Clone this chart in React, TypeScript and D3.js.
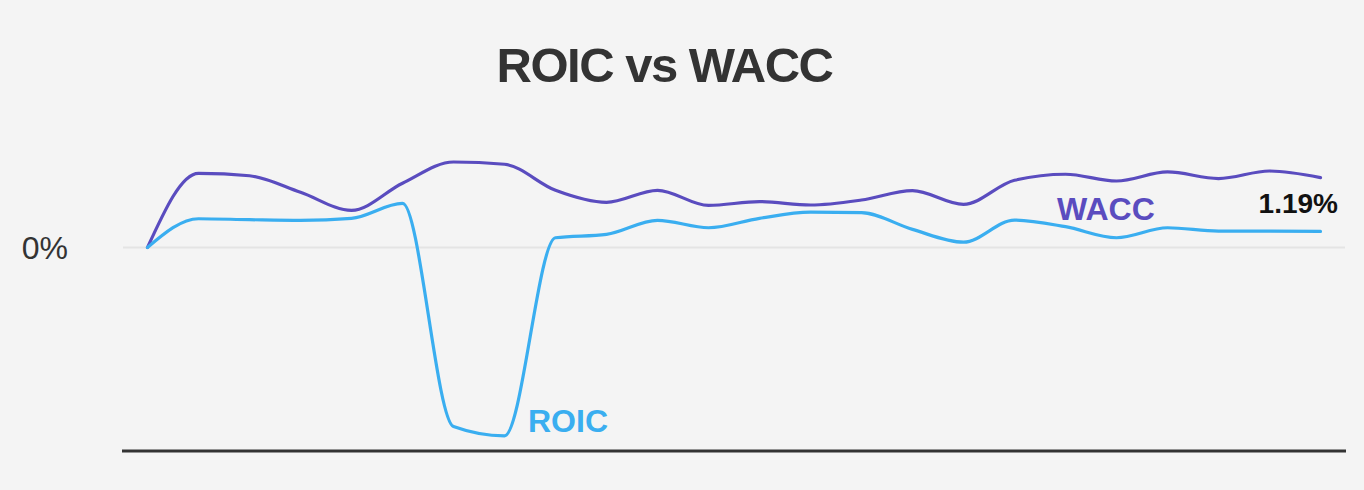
import React from "react";
import * as d3 from "d3";

const periods = [
  "2019 Q1","2019 Q2","2019 Q3","2019 Q4",
  "2020 Q1","2020 Q2","2020 Q3","2020 Q4",
  "2021 Q1","2021 Q2","2021 Q3","2021 Q4",
  "2022 Q1","2022 Q2","2022 Q3","2022 Q4",
  "2023 Q1","2023 Q2","2023 Q3","2023 Q4",
  "2024 Q1","2024 Q2","2024 Q3","2024 Q4",
];
const waccValues = [0, 5.5, 5.32, 4.09, 2.75, 4.76, 6.34, 6.17, 4.24, 3.35, 4.24, 3.12, 3.4, 3.15, 3.52, 4.22, 3.2, 4.98, 5.43, 4.93, 5.6, 5.11, 5.67, 5.18];
const roicValues = [0, 2.13, 2.06, 2.01, 2.16, 3.27, -13.29, -13.98, 0.72, 0.97, 2.01, 1.46, 2.16, 2.62, 2.58, 1.34, 0.39, 2.03, 1.54, 0.72, 1.46, 1.21, 1.21, 1.19];
const yTicks = [0];
const yDomain = [-15.1, 7.6];
const lastLabel = "1.19%";

const W = 1364;
const H = 490;

export default function App() {
  const x = d3.scalePoint<string>().domain(periods).range([122, 1346]).padding(0.5);
  const y = d3.scaleLinear().domain(yDomain).range([451, 145]);
  const line = d3
    .line<number>()
    .x((_, i) => x(periods[i]) as number)
    .y((d) => y(d))
    .curve(d3.curveMonotoneX);

  const font = "'Liberation Sans', Arial, Helvetica, sans-serif";
  const purple = "#5a4cbf";
  const blue = "#3aaef0";

  return (
    <svg
      width={W}
      height={H}
      style={{ position: "absolute", left: 0, top: 0, display: "block" }}
      fontFamily={font}
    >
      <rect x={0} y={0} width={W} height={H} fill="#f4f4f4" />
      <text
        x={664.5}
        y={81.5}
        textAnchor="middle"
        fontSize={49}
        fontWeight="bold"
        letterSpacing={-1.5}
        fill="#333333"
      >
        ROIC vs WACC
      </text>
      {yTicks.map((t) => (
        <g key={t}>
          <line x1={123} x2={1345} y1={y(t)} y2={y(t)} stroke="#e4e4e4" strokeWidth={2} />
          <text x={68} y={y(t) + 12} textAnchor="end" fontSize={32} fill="#333333">
            {`${t}%`}
          </text>
        </g>
      ))}
      <line x1={122} x2={1346} y1={451} y2={451} stroke="#333333" strokeWidth={3} />
      <path d={line(waccValues) || ""} fill="none" stroke={purple} strokeWidth={3.2} strokeLinejoin="round" strokeLinecap="round" />
      <path d={line(roicValues) || ""} fill="none" stroke={blue} strokeWidth={3.2} strokeLinejoin="round" strokeLinecap="round" />
      <text x={1057} y={220} fontSize={32} fontWeight="bold" fill={purple}>WACC</text>
      <text x={528} y={432} fontSize={32} fontWeight="bold" fill={blue}>ROIC</text>
      <text x={1338} y={213} textAnchor="end" fontSize={28} fontWeight="bold" fill="#111111">{lastLabel}</text>
    </svg>
  );
}
